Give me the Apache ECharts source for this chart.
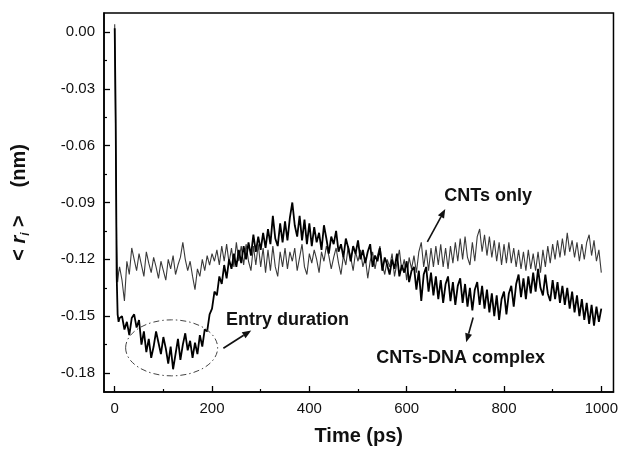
<!DOCTYPE html>
<html>
<head>
<meta charset="utf-8">
<script src="https://cdn.jsdelivr.net/npm/echarts@6/dist/echarts.min.js"></script>
<style>html,body{margin:0;padding:0;background:#fff}#c{width:621px;height:451px}</style>
</head>
<body>
<div id="c"></div>
<script>
// ---- data ----
const timesPs = [0,2,4,6,8,10,
15,20,25,30,35,40,45,50,55,60,
65,70,75,80,85,90,95,100,105,110,
115,120,125,130,135,140,145,150,155,160,
165,170,175,180,185,190,195,200,205,210,
215,220,225,230,235,240,245,250,255,260,
265,270,275,280,285,290,295,300,305,310,
315,320,325,330,335,340,345,350,355,360,
365,370,375,380,385,390,395,400,405,410,
415,420,425,430,435,440,445,450,455,460,
465,470,475,480,485,490,495,500,505,510,
515,520,525,530,535,540,545,550,555,560,
565,570,575,580,585,590,595,600,605,610,
615,620,625,630,635,640,645,650,655,660,
665,670,675,680,685,690,695,700,705,710,
715,720,725,730,735,740,745,750,755,760,
765,770,775,780,785,790,795,800,805,810,
815,820,825,830,835,840,845,850,855,860,
865,870,875,880,885,890,895,900,905,910,
915,920,925,930,935,940,945,950,955,960,
965,970,975,980,985,990,995,1000];

const cntsOnly = [0.004,-0.058,-0.112,-0.132,-0.127,-0.124,
-0.131,-0.142,-0.121,-0.128,-0.114,-0.120,-0.126,-0.117,-0.123,-0.129,
-0.116,-0.122,-0.127,-0.119,-0.124,-0.130,-0.121,-0.126,-0.131,-0.120,
-0.125,-0.118,-0.128,-0.123,-0.119,-0.111,-0.120,-0.126,-0.121,-0.129,
-0.136,-0.125,-0.129,-0.120,-0.126,-0.118,-0.123,-0.117,-0.121,-0.115,
-0.123,-0.113,-0.121,-0.112,-0.122,-0.114,-0.124,-0.111,-0.121,-0.113,
-0.123,-0.112,-0.121,-0.126,-0.113,-0.123,-0.112,-0.124,-0.114,-0.127,
-0.115,-0.126,-0.113,-0.124,-0.129,-0.116,-0.124,-0.114,-0.125,-0.116,
-0.121,-0.114,-0.126,-0.119,-0.112,-0.124,-0.128,-0.117,-0.122,-0.115,
-0.120,-0.127,-0.116,-0.121,-0.113,-0.118,-0.125,-0.119,-0.114,-0.122,
-0.128,-0.118,-0.123,-0.113,-0.119,-0.126,-0.116,-0.121,-0.115,-0.124,
-0.119,-0.130,-0.121,-0.116,-0.125,-0.118,-0.113,-0.123,-0.128,-0.120,
-0.124,-0.117,-0.129,-0.122,-0.115,-0.126,-0.120,-0.131,-0.119,-0.125,
-0.118,-0.127,-0.116,-0.111,-0.124,-0.115,-0.126,-0.114,-0.124,-0.113,
-0.123,-0.112,-0.124,-0.114,-0.125,-0.113,-0.122,-0.111,-0.121,-0.109,
-0.120,-0.108,-0.119,-0.123,-0.111,-0.121,-0.108,-0.104,-0.116,-0.107,
-0.118,-0.108,-0.119,-0.110,-0.121,-0.111,-0.123,-0.112,-0.122,-0.111,
-0.122,-0.114,-0.124,-0.115,-0.125,-0.116,-0.126,-0.115,-0.125,-0.117,
-0.126,-0.116,-0.127,-0.115,-0.124,-0.113,-0.122,-0.112,-0.120,-0.110,
-0.119,-0.109,-0.118,-0.106,-0.116,-0.110,-0.119,-0.111,-0.121,-0.112,
-0.120,-0.111,-0.107,-0.118,-0.110,-0.121,-0.115,-0.127];

const cntsDna = [0.002,-0.045,-0.128,-0.149,-0.153,-0.151,
-0.150,-0.157,-0.153,-0.160,-0.151,-0.149,-0.156,-0.152,-0.165,-0.158,
-0.169,-0.162,-0.172,-0.166,-0.158,-0.164,-0.170,-0.161,-0.167,-0.175,
-0.166,-0.178,-0.170,-0.162,-0.173,-0.165,-0.159,-0.168,-0.163,-0.172,
-0.164,-0.170,-0.160,-0.166,-0.157,-0.158,-0.149,-0.146,-0.137,-0.139,
-0.129,-0.133,-0.123,-0.130,-0.120,-0.125,-0.117,-0.124,-0.115,-0.122,
-0.113,-0.120,-0.111,-0.118,-0.107,-0.116,-0.108,-0.115,-0.106,-0.114,
-0.104,-0.112,-0.097,-0.109,-0.113,-0.101,-0.111,-0.100,-0.110,-0.098,
-0.090,-0.102,-0.108,-0.097,-0.110,-0.099,-0.112,-0.101,-0.113,-0.103,
-0.111,-0.106,-0.115,-0.102,-0.109,-0.117,-0.108,-0.112,-0.105,-0.116,
-0.112,-0.119,-0.109,-0.114,-0.121,-0.113,-0.117,-0.110,-0.120,-0.115,
-0.122,-0.116,-0.112,-0.124,-0.118,-0.121,-0.114,-0.126,-0.119,-0.123,
-0.128,-0.120,-0.125,-0.117,-0.129,-0.123,-0.127,-0.121,-0.132,-0.126,
-0.124,-0.136,-0.126,-0.142,-0.128,-0.124,-0.137,-0.127,-0.139,-0.129,
-0.141,-0.131,-0.143,-0.133,-0.129,-0.142,-0.132,-0.144,-0.134,-0.130,
-0.143,-0.133,-0.145,-0.135,-0.147,-0.136,-0.132,-0.144,-0.134,-0.146,
-0.136,-0.148,-0.138,-0.150,-0.139,-0.152,-0.141,-0.137,-0.149,-0.138,
-0.134,-0.145,-0.133,-0.128,-0.140,-0.130,-0.141,-0.129,-0.138,-0.127,
-0.137,-0.125,-0.135,-0.139,-0.128,-0.138,-0.142,-0.131,-0.141,-0.132,
-0.143,-0.134,-0.144,-0.135,-0.146,-0.137,-0.148,-0.139,-0.150,-0.141,
-0.152,-0.143,-0.154,-0.144,-0.155,-0.145,-0.153,-0.146];

const xMajorTicks = [0,200,400,600,800,1000];
const xMinorTicks = [100,300,500,700,900];
const yMajorTicks = [0,-0.03,-0.06,-0.09,-0.12,-0.15,-0.18];
const yMinorTicks = [-0.015,-0.045,-0.075,-0.105,-0.135,-0.165];

const xTitle = 'Time (ps)';
const annEntry = 'Entry duration';
const annOnly = 'CNTs only';
const annDna = 'CNTs-DNA complex';

// ---- chart ----
const FONT = '"Liberation Sans", Arial, sans-serif';
const chart = echarts.init(document.getElementById('c'), null, {renderer: 'canvas'});
const X_MIN = -22, X_MAX = 1025, Y_MIN = -0.19, Y_MAX = 0.01;

const option = {
  animation: false,
  backgroundColor: '#fff',
  grid: {left: 104, right: 5, top: 13, bottom: 57, show: true, borderColor: '#000', borderWidth: 1.5, backgroundColor: 'transparent'},
  xAxis: [{
    type: 'value', min: X_MIN, max: X_MAX,
    name: xTitle, nameLocation: 'middle', nameGap: 34,
    nameTextStyle: {fontFamily: FONT, fontSize: 20, fontWeight: 'bold', color: '#111'},
    axisLine: {show: true, onZero: false, lineStyle: {color: '#000', width: 1.5}},
    axisTick: {show: true, inside: true, length: 6, customValues: xMajorTicks, lineStyle: {color: '#000', width: 1.3}},
    axisLabel: {show: true, customValues: xMajorTicks, margin: 9, fontFamily: FONT, fontSize: 15, color: '#111',
      formatter: v => String(Math.round(v))},
    splitLine: {show: false}
  }, {
    type: 'value', min: X_MIN, max: X_MAX, position: 'bottom',
    axisLine: {show: false, onZero: false},
    axisTick: {show: true, inside: true, length: 3, customValues: xMinorTicks, lineStyle: {color: '#000', width: 1.2}},
    axisLabel: {show: false},
    splitLine: {show: false}
  }],
  yAxis: [{
    type: 'value', min: Y_MIN, max: Y_MAX,
    name: '{a|<} {r|r}{s|i} {a|>}     {a|(nm)}', nameLocation: 'middle', nameGap: 72, nameRotate: 90,
    nameTextStyle: {
      fontFamily: FONT, fontSize: 20, fontWeight: 'bold', color: '#111',
      rich: {
        a: {fontFamily: FONT, fontSize: 20, fontWeight: 'bold', color: '#111', lineHeight: 26},
        r: {fontFamily: FONT, fontSize: 20, fontWeight: 'bold', fontStyle: 'italic', color: '#111', lineHeight: 26},
        s: {fontFamily: FONT, fontSize: 12, fontWeight: 'bold', fontStyle: 'italic', color: '#111', lineHeight: 26, verticalAlign: 'bottom', padding: [10, 0, 0, 0]}
      }
    },
    axisLine: {show: true, onZero: false, lineStyle: {color: '#000', width: 1.5}},
    axisTick: {show: true, inside: true, length: 6, customValues: yMajorTicks, lineStyle: {color: '#000', width: 1.3}},
    axisLabel: {show: true, customValues: yMajorTicks, margin: 9, fontFamily: FONT, fontSize: 15, color: '#111',
      formatter: v => (Math.abs(v) < 1e-9 ? 0 : v).toFixed(2)},
    splitLine: {show: false}
  }, {
    type: 'value', min: Y_MIN, max: Y_MAX, position: 'left',
    axisLine: {show: false, onZero: false},
    axisTick: {show: true, inside: true, length: 3, customValues: yMinorTicks, lineStyle: {color: '#000', width: 1.2}},
    axisLabel: {show: false},
    splitLine: {show: false}
  }],
  series: [{
    name: annOnly, type: 'line', xAxisIndex: 0, yAxisIndex: 0,
    data: timesPs.map((t, i) => [t, cntsOnly[i]]),
    showSymbol: false, symbol: 'none',
    lineStyle: {color: '#3a3a3a', width: 1.1}, z: 2
  }, {
    name: annDna, type: 'line', xAxisIndex: 0, yAxisIndex: 0,
    data: timesPs.map((t, i) => [t, cntsDna[i]]),
    showSymbol: false, symbol: 'none',
    lineStyle: {color: '#000', width: 1.8}, z: 3
  }]
};
chart.setOption(option);

// ---- annotations placed in data space ----
function px(x, y) { return chart.convertToPixel({gridIndex: 0}, [x, y]); }
function arrow(from, to) {
  const a = px(from[0], from[1]), b = px(to[0], to[1]);
  const dx = b[0] - a[0], dy = b[1] - a[1], L = Math.hypot(dx, dy);
  const ux = dx / L, uy = dy / L, hl = 9, hw = 3.5;
  const bx = b[0] - ux * hl, by = b[1] - uy * hl;
  return [
    {type: 'line', shape: {x1: a[0], y1: a[1], x2: bx, y2: by}, style: {stroke: '#111', lineWidth: 1.6}, z: 10},
    {type: 'polygon', shape: {points: [[b[0], b[1]], [bx - uy * hw, by + ux * hw], [bx + uy * hw, by - ux * hw]]}, style: {fill: '#111'}, z: 10}
  ];
}
function label(text, x, y) {
  const p = px(x, y);
  return {type: 'text', x: p[0], y: p[1], z: 10,
    style: {text: text, fontFamily: FONT, fontSize: 18, fontWeight: 'bold', fill: '#111', align: 'left', verticalAlign: 'middle'}};
}
const ec = px(117, -0.1667);
const graphics = [
  {type: 'ellipse', shape: {cx: ec[0], cy: ec[1], rx: 46, ry: 28}, z: 9,
   style: {fill: 'none', stroke: '#444', lineWidth: 1, lineDash: [6, 3, 1.5, 3]}},
  label(annEntry, 228.8, -0.1521),
  label(annOnly, 677.3, -0.0866),
  label(annDna, 537.6, -0.1722)
].concat(arrow([223.3, -0.1669], [280.6, -0.1575]))
 .concat(arrow([642.5, -0.1108], [679.3, -0.0934]))
 .concat(arrow([736.6, -0.1507], [722.3, -0.1638]));
chart.setOption({graphic: graphics});
</script>
</body>
</html>
